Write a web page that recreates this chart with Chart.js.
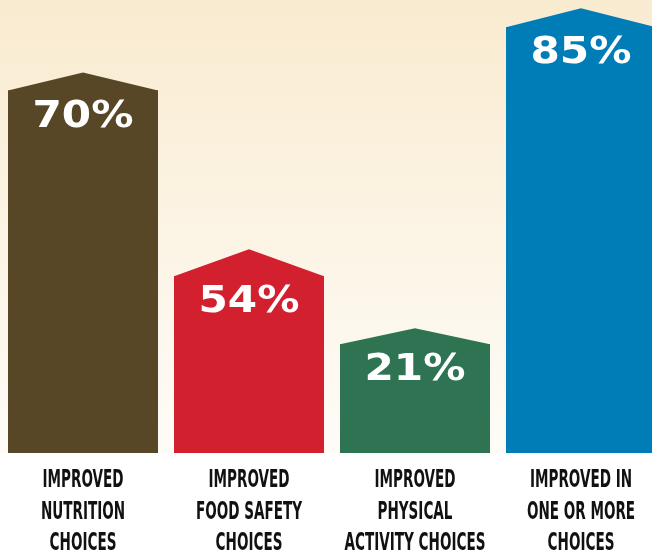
<!DOCTYPE html>
<html>
<head>
<meta charset="utf-8">
<script src="https://cdn.jsdelivr.net/npm/chart.js@4/dist/chart.umd.min.js"></script>
<style>
html,body{margin:0;padding:0;background:#ffffff;overflow:hidden;width:652px;height:554px;}
canvas{display:block;}
</style>
</head>
<body>
<canvas id="c" width="664" height="554"></canvas>
<script>
// Category labels (split in lines as in the picture)
const categories = [
  ["IMPROVED", "NUTRITION", "CHOICES"],
  ["IMPROVED", "FOOD SAFETY", "CHOICES"],
  ["IMPROVED", "PHYSICAL", "ACTIVITY CHOICES"],
  ["IMPROVED IN", "ONE OR MORE", "CHOICES"]
];
// Percentages printed on the bars
const values = [70, 54, 21, 85];
// Visual bar heights (share of plot height, %); the infographic is not to scale
const barHeights = [80, 39, 24, 94];
const barColors = ["#584726", "#d2202f", "#2e7352", "#007cb6"];
const roofPx = [18, 27, 16, 19];

const bgPlugin = {
  id: 'bg',
  beforeDraw(chart) {
    const ctx = chart.ctx, a = chart.chartArea;
    ctx.save();
    ctx.fillStyle = '#ffffff';
    ctx.fillRect(0, 0, chart.width, chart.height);
    const g = ctx.createLinearGradient(0, 0, 0, a.bottom);
    g.addColorStop(0, '#f9ebd0');
    g.addColorStop(1, '#fefcf8');
    ctx.fillStyle = g;
    ctx.fillRect(0, 0, chart.width, a.bottom);
    ctx.restore();
  }
};

const roofPlugin = {
  id: 'roofs',
  afterDatasetsDraw(chart) {
    const ctx = chart.ctx;
    const meta = chart.getDatasetMeta(0);
    ctx.save();
    meta.data.forEach((bar, i) => {
      const half = bar.width / 2;
      ctx.beginPath();
      ctx.moveTo(bar.x - half, bar.y + 2);
      ctx.lineTo(bar.x - half, bar.y);
      ctx.lineTo(bar.x, bar.y - roofPx[i]);
      ctx.lineTo(bar.x + half, bar.y);
      ctx.lineTo(bar.x + half, bar.y + 2);
      ctx.closePath();
      ctx.fillStyle = barColors[i];
      ctx.fill();
      // value label
      ctx.save();
      ctx.font = 'bold 37px "DejaVu Sans", sans-serif';
      const w = ctx.measureText('70%').width;
      const sx = 101 / w;
      ctx.translate(bar.x, bar.y + 36);
      ctx.scale(sx, 1);
      ctx.fillStyle = '#ffffff';
      ctx.textAlign = 'center';
      ctx.textBaseline = 'alphabetic';
      ctx.fillText(values[i] + '%', 0, 0);
      ctx.restore();
    });
    ctx.restore();
  },
  afterDraw(chart) {
    const ctx = chart.ctx;
    const xs = chart.scales.x;
    ctx.save();
    ctx.font = 'bold 25px "Liberation Sans Narrow", "DejaVu Sans Condensed", sans-serif';
    const sx = 81 / ctx.measureText('IMPROVED').width;
    ctx.fillStyle = '#111111';
    ctx.textAlign = 'center';
    ctx.textBaseline = 'alphabetic';
    categories.forEach((lines, i) => {
      const cx = xs.getPixelForValue(i);
      lines.forEach((t, j) => {
        ctx.save();
        ctx.translate(cx, chart.chartArea.bottom + 34 + j * 31.5);
        ctx.scale(sx, 1);
        ctx.fillText(t, 0, 0);
        ctx.restore();
      });
    });
    ctx.restore();
  }
};

new Chart(document.getElementById('c'), {
  type: 'bar',
  data: {
    labels: categories.map(l => l.join(' ')),
    datasets: [{
      data: barHeights,
      backgroundColor: barColors,
      borderWidth: 0,
      barPercentage: 150 / 166,
      categoryPercentage: 1
    }]
  },
  options: {
    responsive: false,
    animation: false,
    layout: { padding: { left: 0, right: 0, top: 0, bottom: 101 } },
    plugins: { legend: { display: false }, tooltip: { enabled: false } },
    scales: {
      x: { display: false },
      y: { display: false, min: 0, max: 100 }
    }
  },
  plugins: [bgPlugin, roofPlugin]
});
</script>
</body>
</html>
